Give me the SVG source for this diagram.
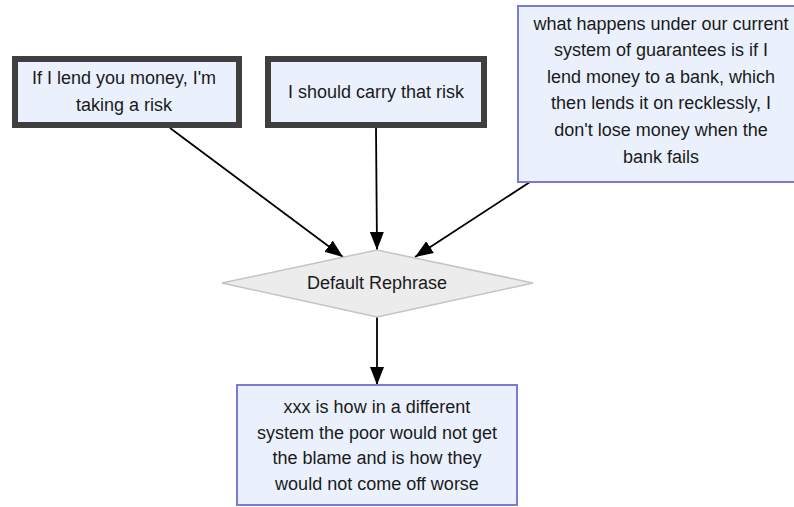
<svg xmlns="http://www.w3.org/2000/svg" width="794" height="507" viewBox="0 0 794 507">
  <defs>
    <style>
      text { font-family: "Liberation Sans", Arial, sans-serif; font-size: 18px; fill: #1a1a1a; text-anchor: middle; dominant-baseline: central; }
      .thick { fill: #eaf1fd; stroke: #3f3f3f; stroke-width: 6; }
      .thin { fill: #eaf1fd; stroke: #7b7bd3; stroke-width: 2; }
      .diamond { fill: #ececec; stroke: #c4c4c4; stroke-width: 1.5; }
      .edge { fill: none; stroke: #000; stroke-width: 1.8; marker-end: url(#arrow); }
    </style>
    <marker id="arrow" markerUnits="userSpaceOnUse" markerWidth="20" markerHeight="16" refX="18" refY="7" orient="auto">
      <path d="M0,0 L18,7 L0,14 z" fill="#000"/>
    </marker>
  </defs>
  <rect width="794" height="507" fill="#fff"/>

  <g id="connectors">
    <line class="edge" x1="170" y1="128" x2="343" y2="257"/>
    <line class="edge" x1="376" y1="128" x2="377" y2="250"/>
    <line class="edge" x1="530" y1="182" x2="415" y2="257"/>
    <line class="edge" x1="377" y1="317" x2="377" y2="385"/>
  </g>

  <g id="node1">
    <rect class="thick" x="15" y="59" width="224" height="66"/>
    <text x="124" y="78">If I lend you money, I'm</text>
    <text x="124" y="105">taking a risk</text>
  </g>

  <g id="node2">
    <rect class="thick" x="268" y="59" width="216" height="66"/>
    <text x="376" y="92">I should carry that risk</text>
  </g>

  <g id="node3">
    <rect class="thin" x="518" y="6" width="282" height="176"/>
    <text x="661" y="24">what happens under our current</text>
    <text x="661" y="50">system of guarantees is if I</text>
    <text x="661" y="77">lend money to a bank, which</text>
    <text x="661" y="103">then lends it on recklessly, I</text>
    <text x="661" y="130">don't lose money when the</text>
    <text x="661" y="157">bank fails</text>
  </g>

  <g id="node4">
    <polygon class="diamond" points="377,250 533,283 377,317 222,283"/>
    <text x="377" y="283">Default Rephrase</text>
  </g>

  <g id="node5">
    <rect class="thin" x="237" y="385" width="280" height="120"/>
    <text x="377" y="407">xxx is how in a different</text>
    <text x="377" y="433">system the poor would not get</text>
    <text x="377" y="458">the blame and is how they</text>
    <text x="377" y="484">would not come off worse</text>
  </g>
</svg>
